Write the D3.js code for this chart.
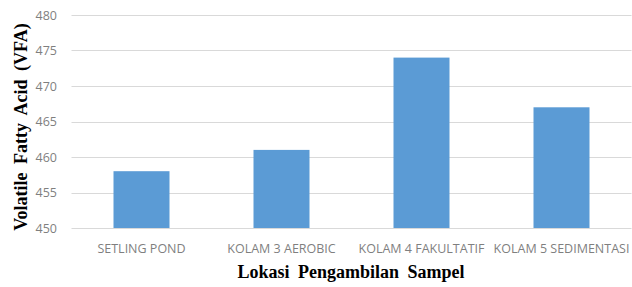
<!DOCTYPE html>
<html>
<head>
<meta charset="utf-8">
<script src="https://cdn.jsdelivr.net/npm/d3@7"></script>
<style>
  body { margin: 0; background: #fff; }
  svg { display: block; }
</style>
</head>
<body>
<div id="chart"></div>
<script>
var categories = ['SETLING POND', 'KOLAM 3 AEROBIC', 'KOLAM 4 FAKULTATIF', 'KOLAM 5 SEDIMENTASI'];
var values = [458, 461, 474, 467];
var yTicks = [450, 455, 460, 465, 470, 475, 480];

var WIDTH = 632;
var HEIGHT = 287;
var LEFT = 71.5, RIGHT = 631.5, TOP = 15, BOTTOM = 228;

var svg = d3.select('#chart')
  .append('svg')
    .attr('width', WIDTH)
    .attr('height', HEIGHT);

var x = d3.scaleBand()
  .domain(categories)
  .range([LEFT, RIGHT])
  .paddingInner(0.6)
  .paddingOuter(0.3);

var y = d3.scaleLinear()
  .domain([450, 480])
  .range([BOTTOM, TOP]);

// gridlines
svg.append('g')
  .selectAll('line')
  .data(yTicks)
  .enter().append('line')
    .attr('x1', LEFT)
    .attr('x2', RIGHT)
    .attr('y1', function(d) { return Math.round(y(d)) + 0.5; })
    .attr('y2', function(d) { return Math.round(y(d)) + 0.5; })
    .attr('stroke', '#d9d9d9')
    .attr('stroke-width', 1);

// y tick labels
var yAxis = d3.axisLeft(y).tickValues(yTicks).tickSize(0).tickPadding(0);
var gy = svg.append('g')
  .attr('transform', 'translate(57,0)')
  .call(yAxis);
gy.select('.domain').remove();
gy.selectAll('text')
  .attr('fill', '#7f7f7f')
  .style('font-family', 'Open Sans, sans-serif')
  .style('font-size', '12.5px');

// bars
svg.append('g')
  .selectAll('rect')
  .data(values)
  .enter().append('rect')
    .attr('x', function(d, i) { return x(categories[i]); })
    .attr('width', x.bandwidth())
    .attr('y', function(d) { return y(d); })
    .attr('height', function(d) { return y(450) - y(d); })
    .attr('fill', '#5b9bd5');

// x labels
var xAxis = d3.axisBottom(x).tickSize(0).tickPadding(0);
var gx = svg.append('g')
  .attr('transform', 'translate(0,' + (BOTTOM + 16) + ')')
  .call(xAxis);
gx.select('.domain').remove();
gx.selectAll('text')
  .attr('fill', '#7f7f7f')
  .style('font-family', 'Open Sans, sans-serif')
  .style('font-size', '12.5px');

// axis titles
svg.append('text')
  .attr('x', 351)
  .attr('y', 278)
  .attr('text-anchor', 'middle')
  .style('font-family', 'Liberation Serif, serif')
  .style('font-weight', 'bold')
  .style('font-size', '18px')
  .style('word-spacing', '4px')
  .text('Lokasi Pengambilan Sampel');

svg.append('text')
  .attr('transform', 'translate(27,127) rotate(-90)')
  .attr('text-anchor', 'middle')
  .style('font-family', 'Liberation Serif, serif')
  .style('font-weight', 'bold')
  .style('font-size', '18px')
  .style('word-spacing', '4px')
  .text('Volatile Fatty Acid (VFA)');
</script>
</body>
</html>
